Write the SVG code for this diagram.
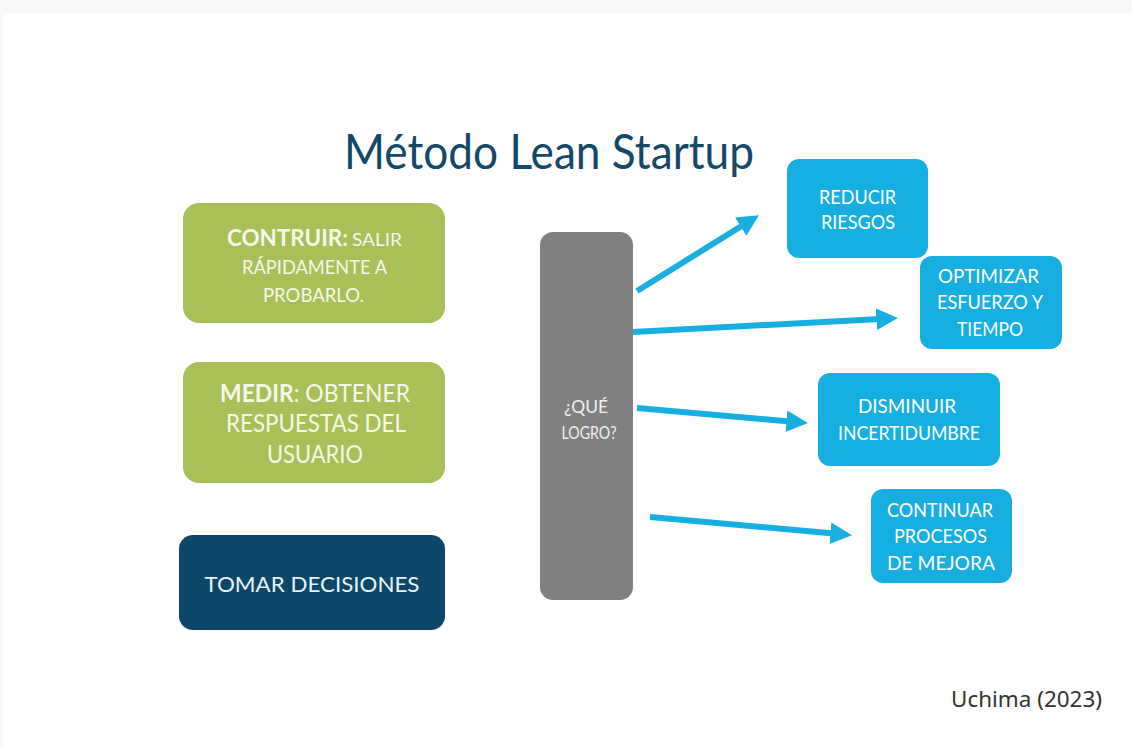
<svg xmlns="http://www.w3.org/2000/svg" width="1132" height="747" viewBox="0 0 1132 747">
<defs>
<style>
.t{font-family:Lato,"Open Sans","Liberation Sans",sans-serif;}
.w{fill:#ffffff;}
.g{fill:#A9BF58;}
.gt{fill:#F6F8EA;}
.c{fill:#17AFE1;}
.n{fill:#0C4669;}
.gr{fill:#808080;}
.conn line{stroke:#17AFE1;stroke-width:6;marker-end:url(#ah);}
</style>
<marker id="ah" viewBox="0 0 10 10" refX="4" refY="5" markerWidth="3.6" markerHeight="3.6" orient="auto" markerUnits="strokeWidth">
<path d="M0,0 L10,5 L0,10 z" fill="#17AFE1"/>
</marker>
</defs>
<rect x="0" y="0" width="1132" height="747" fill="#f7f7f7"/>
<rect x="3" y="13" width="1135" height="740" rx="8" fill="#ffffff"/>

<text id="title" class="t" x="344" y="169" font-size="48" fill="#124868" textLength="410" lengthAdjust="spacingAndGlyphs">Método Lean Startup</text>

<g id="construir">
<rect class="g" x="183" y="203" width="262" height="120" rx="16"/>
<text class="t gt" x="227" y="246" font-size="22" font-weight="bold" textLength="121" lengthAdjust="spacingAndGlyphs">CONTRUIR:</text>
<text class="t gt" x="352" y="246" font-size="18" textLength="50" lengthAdjust="spacingAndGlyphs">SALIR</text>
<text class="t gt" x="314.5" y="274" font-size="19" text-anchor="middle" textLength="145" lengthAdjust="spacingAndGlyphs">RÁPIDAMENTE A</text>
<text class="t gt" x="313.5" y="302" font-size="19" text-anchor="middle" textLength="101" lengthAdjust="spacingAndGlyphs">PROBARLO.</text>
</g>

<g id="medir">
<rect class="g" x="183" y="362" width="262" height="121" rx="16"/>
<text class="t gt" x="220" y="402" font-size="25" textLength="190" lengthAdjust="spacingAndGlyphs"><tspan font-weight="bold">MEDIR</tspan>: OBTENER</text>
<text class="t gt" x="316" y="432" font-size="25" text-anchor="middle" textLength="180" lengthAdjust="spacingAndGlyphs">RESPUESTAS DEL</text>
<text class="t gt" x="315" y="463" font-size="25" text-anchor="middle" textLength="96" lengthAdjust="spacingAndGlyphs">USUARIO</text>
</g>

<g id="decisiones">
<rect class="n" x="179" y="535" width="266" height="95" rx="14"/>
<text class="t" x="312" y="592" font-size="22" fill="#E6F2F8" text-anchor="middle" textLength="215" lengthAdjust="spacingAndGlyphs">TOMAR DECISIONES</text>
</g>

<g id="logro">
<rect class="gr" x="540" y="232" width="93" height="368" rx="13"/>
<text class="t" x="586" y="413" font-size="18" fill="#F0F0F0" text-anchor="middle" textLength="44" lengthAdjust="spacingAndGlyphs">¿QUÉ</text>
<text class="t" x="589" y="439" font-size="18" fill="#F0F0F0" text-anchor="middle" textLength="55" lengthAdjust="spacingAndGlyphs">LOGRO?</text>
</g>

<g id="reducir">
<rect class="c" x="787" y="159" width="141" height="99" rx="12"/>
<text class="t w" x="857.5" y="204" font-size="19.5" text-anchor="middle" textLength="77" lengthAdjust="spacingAndGlyphs">REDUCIR</text>
<text class="t w" x="858" y="229" font-size="19.5" text-anchor="middle" textLength="74" lengthAdjust="spacingAndGlyphs">RIESGOS</text>
</g>

<g id="optimizar">
<rect class="c" x="920" y="256" width="142" height="93" rx="12"/>
<text class="t w" x="988.5" y="283" font-size="19.5" text-anchor="middle" textLength="101" lengthAdjust="spacingAndGlyphs">OPTIMIZAR</text>
<text class="t w" x="990" y="309" font-size="19.5" text-anchor="middle" textLength="106" lengthAdjust="spacingAndGlyphs">ESFUERZO Y</text>
<text class="t w" x="990" y="336" font-size="19.5" text-anchor="middle" textLength="66" lengthAdjust="spacingAndGlyphs">TIEMPO</text>
</g>

<g id="disminuir">
<rect class="c" x="818" y="373" width="182" height="93" rx="12"/>
<text class="t w" x="907" y="413" font-size="19.5" text-anchor="middle" textLength="98" lengthAdjust="spacingAndGlyphs">DISMINUIR</text>
<text class="t w" x="909" y="440" font-size="19.5" text-anchor="middle" textLength="142" lengthAdjust="spacingAndGlyphs">INCERTIDUMBRE</text>
</g>

<g id="continuar">
<rect class="c" x="871" y="489" width="141" height="94" rx="12"/>
<text class="t w" x="940" y="517" font-size="19.5" text-anchor="middle" textLength="106" lengthAdjust="spacingAndGlyphs">CONTINUAR</text>
<text class="t w" x="940.5" y="543" font-size="19.5" text-anchor="middle" textLength="93" lengthAdjust="spacingAndGlyphs">PROCESOS</text>
<text class="t w" x="941" y="570" font-size="19.5" text-anchor="middle" textLength="108" lengthAdjust="spacingAndGlyphs">DE MEJORA</text>
</g>

<g id="connectors" class="conn">
<line x1="637" y1="291" x2="748" y2="222"/>
<line x1="633" y1="332" x2="885" y2="318.7"/>
<line x1="637" y1="408" x2="795" y2="421.9"/>
<line x1="650" y1="517" x2="839" y2="534"/>
</g>

<text id="cite" x="951" y="707" font-family="'Noto Sans','Open Sans',sans-serif" font-size="22" fill="#333333" textLength="151" lengthAdjust="spacingAndGlyphs">Uchima (2023)</text>
</svg>
